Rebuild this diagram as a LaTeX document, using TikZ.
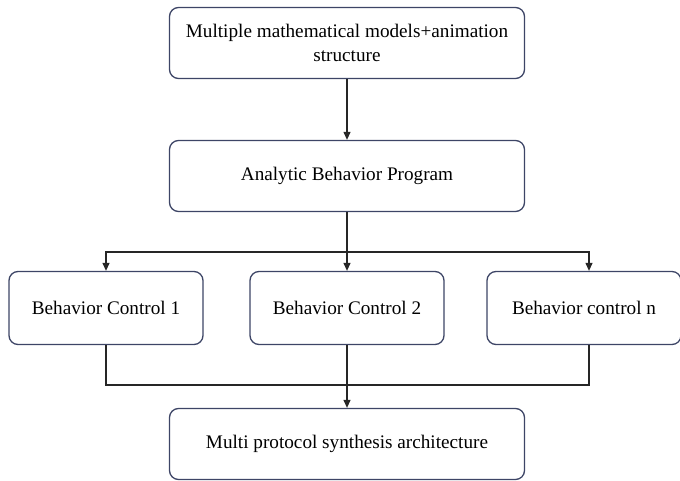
\documentclass[tikz,border=0pt]{standalone}
\usepackage{fontspec}
\setmainfont{Liberation Serif}
\usepackage{tikz}
\definecolor{boxBorder}{rgb}{0.24,0.27,0.40}
\usetikzlibrary{arrows.meta}
\usetikzlibrary{positioning}
\tikzstyle{BOX} = [draw=boxBorder, line width=1.3pt, rounded corners=9pt, fill=white]
\tikzstyle{WIDE} = [minimum width=355pt, minimum height=71pt]
\tikzstyle{CTRL} = [minimum width=194pt, minimum height=73pt]
\tikzstyle{LINK} = [draw=black!85, line width=1.2pt]
\tikzstyle{ARROW} = [LINK, -{Triangle[length=8pt,width=7pt]}]

\begin{document}
\begin{tikzpicture}[
            every node/.style={align=center, inner sep=0pt, font=\fontsize{19.2}{24}\selectfont},
            node distance=133pt
        ]
            \useasboundingbox (0,0) rectangle (680pt,-481pt);
            \node [BOX, WIDE] (models) at (347pt,-43pt) {Multiple mathematical models+animation\\structure};
            \node [BOX, WIDE, below of=models] (program) {Analytic Behavior Program};
            \node [BOX, CTRL, below of=program, node distance=132pt] (ctrl2) {Behavior Control 2};
            \node [BOX, CTRL, left of=ctrl2, node distance=241pt] (ctrl1) {Behavior Control 1};
            \node [BOX, CTRL, right of=ctrl2, node distance=237pt] (ctrln) {Behavior control n};
            \node [BOX, WIDE, below of=ctrl2, node distance=136pt] (synth) {Multi protocol synthesis architecture};
            \coordinate [below of=program, node distance=76pt] (split);
            \coordinate [above of=synth, node distance=59pt] (merge);
            \draw [ARROW] (models.south) -- (program.north);
            \draw [ARROW] (program.south) -- (ctrl2.north);
            \draw [ARROW] (split) -| (ctrl1.north);
            \draw [ARROW] (split) -| ([xshift=5pt]ctrln.north);
            \draw [LINK] (ctrl1.south) |- (merge);
            \draw [LINK] ([xshift=5pt]ctrln.south) |- (merge);
            \draw [ARROW] (ctrl2.south) -- (synth.north);
        \end{tikzpicture}
\end{document}
